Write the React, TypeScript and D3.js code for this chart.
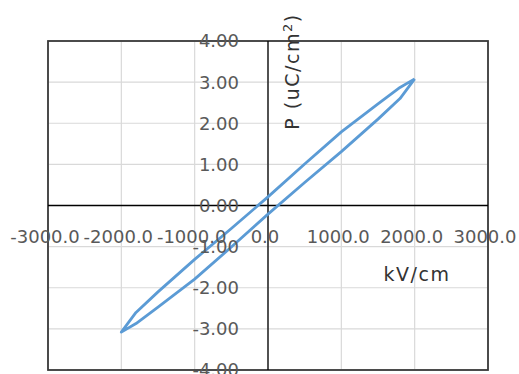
import React from "react";
import * as d3 from "d3";

const xTicks = [-3000, -2000, -1000, 0, 1000, 2000, 3000];
const yTicks = [-4, -3, -2, -1, 0, 1, 2, 3, 4];

// Descending branch (from +Emax to -Emax)
const upperE = [2000, 1800, 1500, 1000, 500, 0, -500, -1000, -1500, -1800, -2000];
const upperP = [3.08, 2.87, 2.47, 1.79, 1.01, 0.21, -0.56, -1.31, -2.1, -2.6, -3.08];
// Ascending branch (from -Emax to +Emax)
const lowerE = [-2000, -1800, -1500, -1000, -500, 0, 500, 1000, 1500, 1800, 2000];
const lowerP = [-3.08, -2.87, -2.47, -1.79, -1.01, -0.21, 0.56, 1.31, 2.1, 2.6, 3.08];

const xTitle = "kV/cm";

export default function App() {
  const W = 519, H = 374;
  const left = 48, right = 488, top = 41, bottom = 370;
  const x = d3.scaleLinear().domain([-3000, 3000]).range([left, right]);
  const y = d3.scaleLinear().domain([-4, 4]).range([bottom, top]);

  const pts: [number, number][] = [];
  upperE.forEach((e, i) => pts.push([e, upperP[i]]));
  lowerE.forEach((e, i) => pts.push([e, lowerP[i]]));
  const line = d3
    .line<[number, number]>()
    .x((d) => x(d[0]))
    .y((d) => y(d[1]))
    .curve(d3.curveLinear);

  const font = "'DejaVu Sans', sans-serif";

  return (
    <svg
      width={W}
      height={H}
      style={{ position: "absolute", left: 0, top: 0, background: "#fff" }}
    >
      {/* gridlines */}
      {xTicks.map((t) => (
        <line key={"gx" + t} x1={x(t)} x2={x(t)} y1={top} y2={bottom} stroke="#d9d9d9" strokeWidth={1.2} />
      ))}
      {yTicks.map((t) => (
        <line key={"gy" + t} x1={left} x2={right} y1={y(t)} y2={y(t)} stroke="#d9d9d9" strokeWidth={1.2} />
      ))}
      {/* border */}
      <rect x={left} y={top} width={right - left} height={bottom - top} fill="none" stroke="#3a3a3a" strokeWidth={1.8} />
      {/* zero axes */}
      <line x1={left} x2={right} y1={y(0)} y2={y(0)} stroke="#000" strokeWidth={1.3} />
      <line x1={x(0)} x2={x(0)} y1={top} y2={bottom} stroke="#000" strokeWidth={1.3} />
      {/* data */}
      <path d={line(pts) || ""} fill="none" stroke="#5b9bd5" strokeWidth={2.8} strokeLinejoin="round" />
      {/* y tick labels */}
      {yTicks.map((t) => (
        <text
          key={"yl" + t}
          x={239}
          y={y(t)}
          dy="0.36em"
          textAnchor="end"
          fontFamily={font}
          fontSize={18}
          fill="#595959"
        >
          {t.toFixed(2)}
        </text>
      ))}
      {/* x tick labels */}
      {xTicks.map((t) => (
        <text
          key={"xl" + t}
          x={x(t) - 3}
          y={243}
          textAnchor="middle"
          fontFamily={font}
          fontSize={18}
          fill="#595959"
        >
          {t.toFixed(1)}
        </text>
      ))}
      {/* axis titles */}
      <text
        x={417}
        y={281}
        textAnchor="middle"
        fontFamily={font}
        fontSize={19}
        letterSpacing={1.5}
        fill="#333"
      >
        {xTitle}
      </text>
      <text
        transform={`translate(299, 71.5) rotate(-90)`}
        textAnchor="middle"
        fontFamily={font}
        fontSize={19}
        letterSpacing={1.5}
        fill="#333"
      >
        P (uC/cm<tspan dy={-7} fontSize={13}>2</tspan>
        <tspan dy={7}>)</tspan>
      </text>
    </svg>
  );
}
